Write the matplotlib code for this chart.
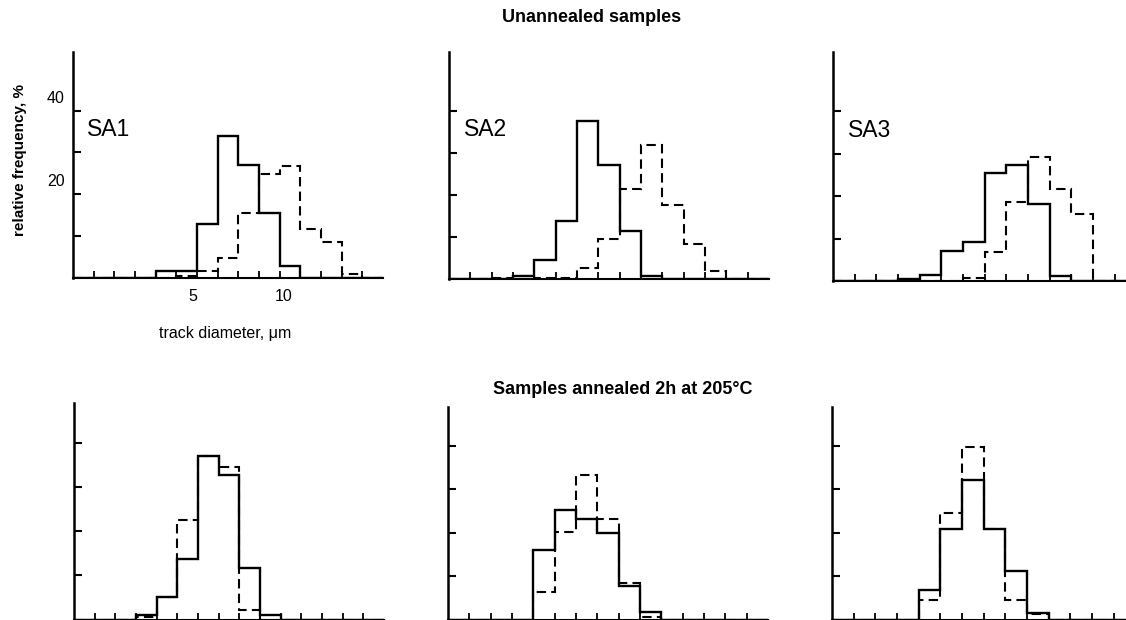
import numpy as np
import matplotlib
matplotlib.use('Agg')
import matplotlib.pyplot as plt
import matplotlib.transforms as mtransforms

plt.rcParams['font.family'] = ['Liberation Sans', 'DejaVu Sans']

# Bin edges (1 unit wide, track diameter axis) and relative frequencies, %
EDGES = np.arange(0, 16)

# Unannealed samples
SA1_SOLID = [0, 0, 0, 0, 1.7, 1.7, 13.0, 33.9, 27.1, 15.6, 2.9, 0, 0, 0, 0]
SA1_DASH = [0, 0, 0, 0, 0, 0.5, 1.7, 4.8, 15.6, 24.8, 26.7, 11.7, 8.7, 1.0, 0]
SA2_SOLID = [0, 0, 0, 0.8, 4.5, 13.7, 37.5, 27.2, 11.4, 0.6, 0, 0, 0, 0, 0]
SA2_DASH = [0, 0, 0.3, 0.8, 0.3, 0.3, 2.7, 9.5, 21.5, 31.9, 17.6, 8.4, 1.8, 0, 0]
SA3_SOLID = [0, 0, 0, 0.5, 1.3, 7.0, 9.3, 25.4, 27.3, 18.1, 1.2, 0, 0, 0, 0]
SA3_DASH = [0, 0, 0, 0, 0, 0, 0.8, 6.8, 18.7, 29.3, 21.8, 15.8, 0, 0, 0]

# Samples annealed 2h at 205 C
AN1_SOLID = [0, 0, 0, 1.1, 5.0, 13.6, 36.9, 32.7, 11.6, 1.1, 0, 0, 0, 0, 0]
AN1_DASH = [0, 0, 0, 0.5, 5.0, 22.5, 36.9, 34.6, 2.1, 0, 0, 0, 0, 0, 0]
AN2_SOLID = [0, 0, 0, 0, 16.0, 25.2, 23.1, 20.0, 7.7, 1.7, 0, 0, 0, 0, 0]
AN2_DASH = [0, 0, 0, 0, 6.4, 20.2, 33.3, 23.2, 8.5, 0.5, 0, 0, 0, 0, 0]
AN3_SOLID = [0, 0, 0, 0, 6.8, 20.9, 32.1, 20.9, 11.2, 1.5, 0, 0, 0, 0, 0]
AN3_DASH = [0, 0, 0, 0, 4.4, 24.5, 39.8, 20.9, 4.4, 1.2, 0, 0, 0, 0, 0]

PANEL_NAMES = ['SA1', 'SA2', 'SA3']
Y_TICKS = [10, 20, 30, 40]
Y_LABELS = ['', '20', '', '40']
X_TICKS = list(range(1, 15))
X_LABELS = ['5', '10']
X_LABEL_POS = [5.8, 10.2]

W, H = 1126, 620
fig = plt.figure(figsize=(W / 100, H / 100), dpi=100)


def make_axes(left, base, top, width_px):
    return fig.add_axes([left / W, 1 - base / H, width_px / W, (base - top) / H])


def style(ax, ymax):
    ax.set_xlim(0, 15)
    ax.set_ylim(0, ymax)
    for s in ['top', 'right']:
        ax.spines[s].set_visible(False)
    ax.spines['left'].set_linewidth(1.8)
    ax.spines['bottom'].set_linewidth(1.5)
    ax.set_yticks(Y_TICKS)
    ax.set_yticklabels([])
    ax.set_xticks(X_TICKS, minor=True)
    ax.set_xticks([])
    ax.tick_params(axis='y', direction='in', length=6, width=1.5)
    ax.tick_params(axis='x', which='minor', direction='in', length=5, width=1.3)
    ax.patch.set_alpha(0)


def draw(ax, solid, dash):
    ax.stairs(solid, EDGES, color='black', lw=1.7, baseline=0)
    ax.stairs(dash, EDGES, color='black', lw=1.5, baseline=0,
              linestyle=(0, (4.5, 2.5)))


top_axes = [make_axes(73, 278, 52, 310), make_axes(449, 279, 52, 320),
            make_axes(833, 281, 52, 325)]
bot_axes = [make_axes(74, 619.5, 403, 310), make_axes(448, 619.5, 407, 320),
            make_axes(832, 619.5, 407, 325)]

top_data = [(SA1_SOLID, SA1_DASH), (SA2_SOLID, SA2_DASH), (SA3_SOLID, SA3_DASH)]
bot_data = [(AN1_SOLID, AN1_DASH), (AN2_SOLID, AN2_DASH), (AN3_SOLID, AN3_DASH)]

for ax, (s, d), name in zip(top_axes, top_data, PANEL_NAMES):
    style(ax, 54)
    draw(ax, s, d)
    ax.text(0.7, 35.5, name, fontsize=16.5, ha='left', va='center')

for ax, (s, d) in zip(bot_axes, bot_data):
    style(ax, 49)
    draw(ax, s, d)

# tick labels only on the first panel
ax0 = top_axes[0]
ax0.set_yticklabels(Y_LABELS, fontsize=11.5)
ax0.tick_params(axis='y', pad=6)
offset = mtransforms.ScaledTranslation(0, 14 / 100, fig.dpi_scale_trans)
for lab in ax0.get_yticklabels():
    lab.set_transform(lab.get_transform() + offset)
for pos, lab in zip(X_LABEL_POS, X_LABELS):
    ax0.text(pos, -4.4, lab, fontsize=11.5, ha='center', va='center')
ax0.text(7.35, -13.3, 'track diameter, \u03bcm', fontsize=11.5, ha='center', va='center')

fig.text(20 / W, 1 - 160 / H, 'relative frequency, %', rotation=90, fontsize=11,
         ha='center', va='center', fontweight='bold')
fig.text(592 / W, 1 - 17 / H, 'Unannealed samples', fontsize=13,
         ha='center', va='center', fontweight='bold')
fig.text(623 / W, 1 - 390 / H, 'Samples annealed 2h at 205\u00b0C', fontsize=13,
         ha='center', va='center', fontweight='bold')

fig.savefig('out.png', dpi=100)
